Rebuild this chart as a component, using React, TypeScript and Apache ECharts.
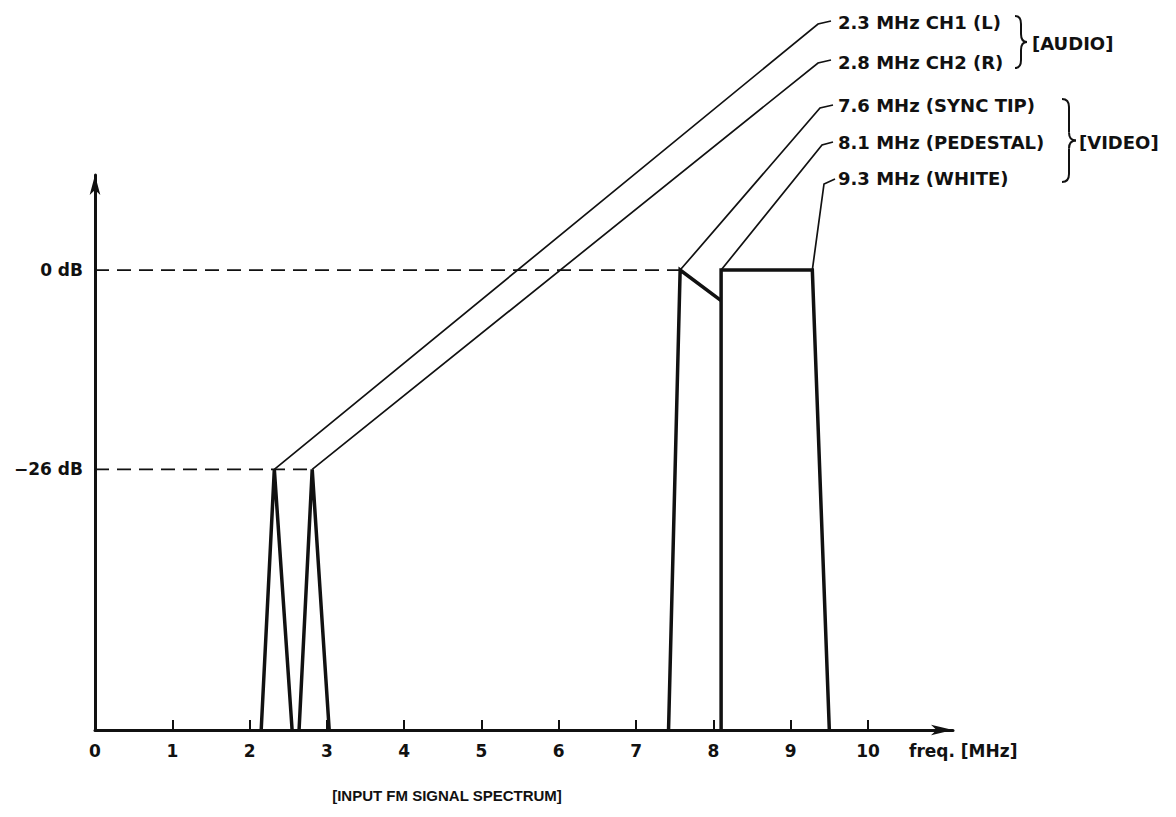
import React, { useEffect, useRef } from "react";
import * as echarts from "echarts";

// ---- data (MHz, dB) ----
const xTickValues = [1, 2, 3, 4, 5, 6, 7, 8, 9, 10];
const xLabelValues = [0, 1, 2, 3, 4, 5, 6, 7, 8, 9, 10];
const yLabelValues = [0, -26];
const ch1Peak = [[2.15, -60], [2.32, -26], [2.55, -60]];
const ch2Peak = [[2.64, -60], [2.81, -26], [3.03, -60]];
const syncTip = [[7.42, -60], [7.57, 0], [8.1, -4]];
const pedestalWhite = [[8.1, -60], [8.1, 0], [9.28, 0], [9.5, -60]];
const refLine0 = [[0, 0], [7.57, 0]];
const refLine26 = [[0, -26], [2.81, -26]];
const audioLabels = ["2.3 MHz CH1 (L)", "2.8 MHz CH2 (R)"];
const videoLabels = ["7.6 MHz (SYNC TIP)", "8.1 MHz (PEDESTAL)", "9.3 MHz (WHITE)"];
const leaderAnchors = [[2.32, -26], [2.81, -26], [7.57, 0], [8.1, 0], [9.28, 0]];

const INK = "#111";
const FONT = "DejaVu Sans";

function braceCurves(x: number, yTop: number, yBot: number, w: number) {
  const mid = (yTop + yBot) / 2;
  const r = Math.min(8, (yBot - yTop) / 6);
  const xm = x + w / 2;
  const st = { stroke: INK, lineWidth: 2, fill: "none" };
  return [
    { type: "bezierCurve", shape: { x1: x, y1: yTop, cpx1: xm, cpy1: yTop, x2: xm, y2: yTop + r }, style: st },
    { type: "line", shape: { x1: xm, y1: yTop + r, x2: xm, y2: mid - r }, style: st },
    { type: "bezierCurve", shape: { x1: xm, y1: mid - r, cpx1: xm, cpy1: mid, x2: x + w, y2: mid }, style: st },
    { type: "bezierCurve", shape: { x1: x + w, y1: mid, cpx1: xm, cpy1: mid, x2: xm, y2: mid + r }, style: st },
    { type: "line", shape: { x1: xm, y1: mid + r, x2: xm, y2: yBot - r }, style: st },
    { type: "bezierCurve", shape: { x1: xm, y1: yBot - r, cpx1: xm, cpy1: yBot, x2: x, y2: yBot }, style: st },
  ];
}

export default function App() {
  const ref = useRef<HTMLDivElement>(null);
  useEffect(() => {
    if (!ref.current) return;
    const chart = echarts.init(ref.current, null, { renderer: "svg" });
    const thick = (data: number[][]) => ({
      type: "line",
      data,
      symbol: "none",
      clip: false,
      lineStyle: { color: INK, width: 3.5, join: "miter" },
      z: 3,
    });
    const dashed = (data: number[][]) => ({
      type: "line",
      data,
      symbol: "none",
      clip: false,
      lineStyle: { color: INK, width: 1.8, type: [14, 8] },
      z: 2,
    });
    chart.setOption({
      animation: false,
      backgroundColor: "#fff",
      grid: { left: 95, right: 223, top: 175, bottom: 87 },
      xAxis: {
        type: "value",
        min: 0,
        max: 11.1,
        splitLine: { show: false },
        axisLine: {
          onZero: false,
          lineStyle: { color: INK, width: 3 },
          symbol: ["none", "arrow"],
          symbolSize: [8, 22],
        },
        axisTick: { show: true, inside: true, length: 10, customValues: xTickValues, lineStyle: { color: INK, width: 2 } },
        axisLabel: {
          customValues: xLabelValues,
          margin: 12,
          color: INK,
          fontFamily: FONT,
          fontWeight: "bold",
          fontSize: 17,
        },
      },
      yAxis: {
        type: "value",
        min: -60,
        max: 12.4,
        splitLine: { show: false },
        axisLine: {
          onZero: false,
          lineStyle: { color: INK, width: 3 },
          symbol: ["none", "arrow"],
          symbolSize: [8, 20],
        },
        axisTick: { show: false },
        axisLabel: {
          customValues: yLabelValues,
          margin: 12,
          color: INK,
          fontFamily: FONT,
          fontWeight: "bold",
          fontSize: 17,
          formatter: (v: number) => (v < 0 ? "\u2212" + Math.abs(v) + " dB" : v + " dB"),
        },
      },
      series: [
        dashed(refLine0),
        dashed(refLine26),
        thick(ch1Peak),
        thick(ch2Peak),
        thick(syncTip),
        thick(pedestalWhite),
      ],
    });

    // leader lines and annotation text
    const labelPos = [
      { hook: [818, 24], end: [831, 21] },
      { hook: [818, 63], end: [831, 60] },
      { hook: [820, 108], end: [833, 105] },
      { hook: [822, 145], end: [833, 142] },
      { hook: [824, 184], end: [835, 179] },
    ];
    const allLabels = [...audioLabels, ...videoLabels];
    const textYs = [22, 62, 105, 142, 178];
    const graphics: any[] = [];
    leaderAnchors.forEach((a, i) => {
      const p = chart.convertToPixel({ gridIndex: 0 }, a) as number[];
      graphics.push({
        type: "polyline",
        shape: { points: [p, labelPos[i].hook, labelPos[i].end] },
        style: { stroke: INK, lineWidth: 1.7, fill: "none" },
        z: 10,
      });
      graphics.push({
        type: "text",
        x: 838,
        y: textYs[i],
        style: {
          text: allLabels[i],
          fill: INK,
          font: `bold 18px "${FONT}"`,
          textVerticalAlign: "middle",
          textAlign: "left",
        },
        z: 10,
      });
    });
    graphics.push(...braceCurves(1015, 16, 68, 12).map((g) => ({ ...g, z: 10 })));
    graphics.push({
      type: "text",
      x: 1032,
      y: 43,
      style: { text: "[AUDIO]", fill: INK, font: `bold 18px "${FONT}"`, textVerticalAlign: "middle" },
      z: 10,
    });
    graphics.push(...braceCurves(1062, 99, 182, 14).map((g) => ({ ...g, z: 10 })));
    graphics.push({
      type: "text",
      x: 1079,
      y: 142,
      style: { text: "[VIDEO]", fill: INK, font: `bold 18px "${FONT}"`, textVerticalAlign: "middle" },
      z: 10,
    });
    graphics.push({
      type: "text",
      x: 909,
      y: 751,
      style: { text: "freq. [MHz]", fill: INK, font: `bold 17px "${FONT}"`, textVerticalAlign: "middle" },
      z: 10,
    });
    graphics.push({
      type: "text",
      x: 447,
      y: 795,
      style: {
        text: "[INPUT FM SIGNAL SPECTRUM]",
        fill: INK,
        font: `bold 15px "Liberation Sans"`,
        textAlign: "center",
        textVerticalAlign: "middle",
      },
      z: 10,
    });
    chart.setOption({ graphic: graphics });
    return () => chart.dispose();
  }, []);
  return (
    <div
      ref={ref}
      style={{ position: "fixed", left: 0, top: 0, width: 1176, height: 817, background: "#fff" }}
    />
  );
}
